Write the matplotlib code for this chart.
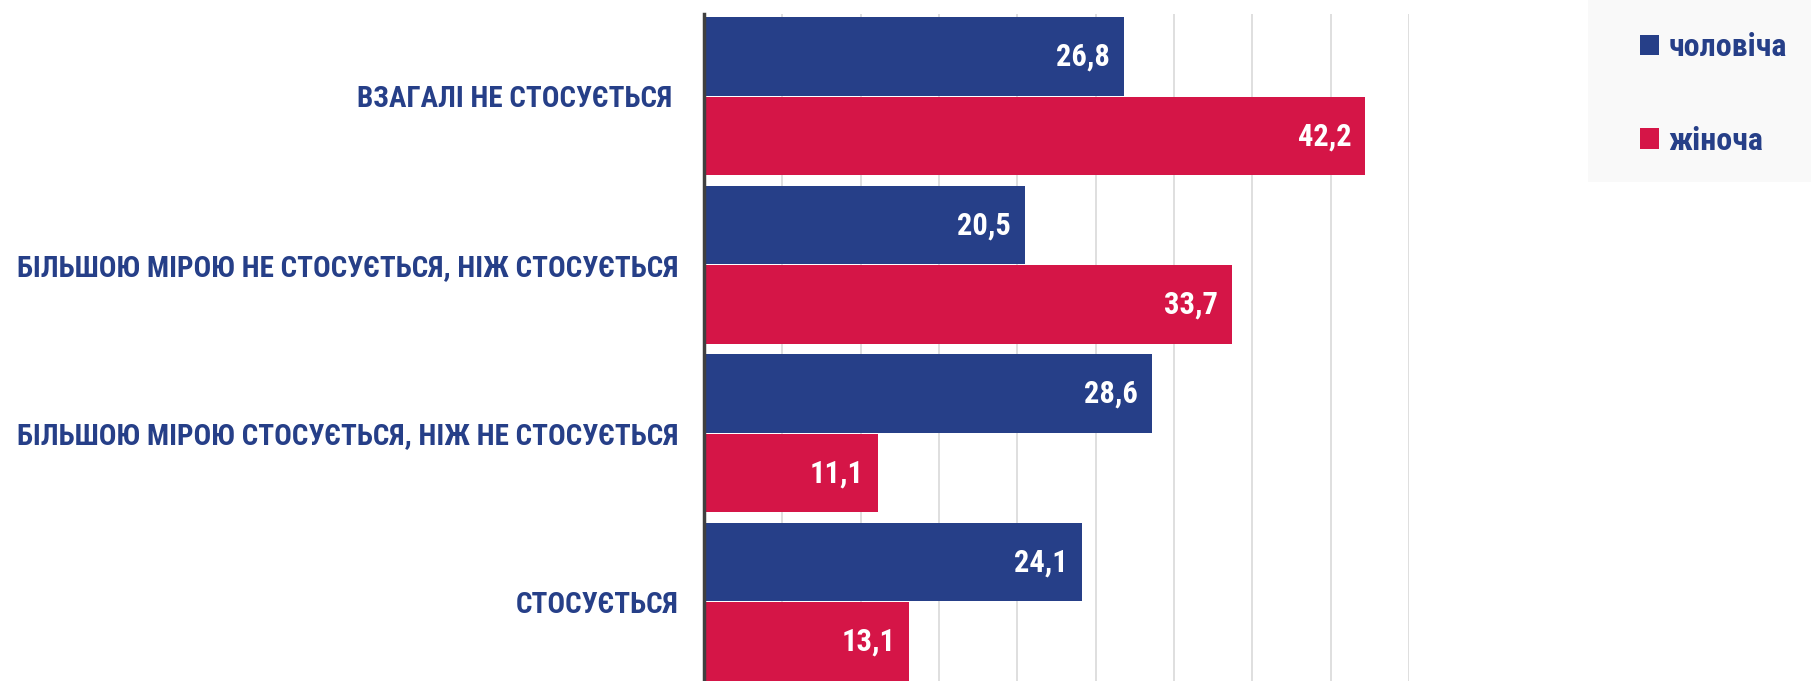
import numpy as np
import matplotlib.pyplot as plt
from matplotlib.patches import Rectangle

categories = ["ВЗАГАЛІ НЕ СТОСУЄТЬСЯ ",
              "БІЛЬШОЮ МІРОЮ НЕ СТОСУЄТЬСЯ, НІЖ СТОСУЄТЬСЯ",
              "БІЛЬШОЮ МІРОЮ СТОСУЄТЬСЯ, НІЖ НЕ СТОСУЄТЬСЯ",
              "СТОСУЄТЬСЯ"]
male = [26.8, 20.5, 28.6, 24.1]
female = [42.2, 33.7, 11.1, 13.1]
series_names = ["чоловіча", "жіноча"]

BLUE = "#263F88"
RED = "#D51547"
FONT = ["Roboto Condensed", "DejaVu Sans"]

plt.rcParams["font.family"] = FONT
plt.rcParams["font.weight"] = "bold"

fig = plt.figure(figsize=(18.11, 6.81), dpi=100)
ax = fig.add_axes([0.3887, 0.0, 0.778 - 0.3887, 0.9797])

y = np.arange(len(categories))
h = 0.466
off = 0.236
b1 = ax.barh(y - off, male, height=h, color=BLUE, label=series_names[0], zorder=2)
b2 = ax.barh(y + off, female, height=h, color=RED, label=series_names[1], zorder=2)

for bars, vals in ((b1, male), (b2, female)):
    for rect, v in zip(bars, vals):
        ax.annotate(f"{v:.1f}".replace(".", ","),
                    (v, rect.get_y() + rect.get_height() / 2),
                    xytext=(-10, 0), textcoords="offset points",
                    ha="right", va="center", color="white",
                    fontsize=22, fontweight="bold", zorder=3)

ax.set_xlim(0, 45)
ax.set_xticks(np.arange(0, 46, 5))
ax.set_ylim(3.47, -0.49)
ax.set_yticks(y)
ax.set_yticklabels(categories, fontsize=21, color=BLUE, fontweight="bold")
ax.tick_params(axis="y", length=0, pad=18)
ax.tick_params(axis="x", length=0, labelbottom=False)
ax.grid(axis="x", color="#D9D9D9", linewidth=1.2, zorder=0)
for s in ["top", "right", "bottom"]:
    ax.spines[s].set_visible(False)
ax.spines["left"].set_color("#404040")
ax.spines["left"].set_linewidth(2.5)
ax.spines["left"].set_zorder(4)

# legend panel
fig.patches.append(Rectangle((1588 / 1811, 1 - 182 / 681), 1 - 1588 / 1811, 182 / 681,
                             transform=fig.transFigure, facecolor="#F9F9F9",
                             edgecolor="none", zorder=0))
leg = fig.legend(handles=[b1, b2], loc="upper left",
                 bbox_to_anchor=(1624 / 1811, 1 - 16 / 681),
                 frameon=False, fontsize=23, handlelength=0.6, handleheight=0.6,
                 handletextpad=0.3, labelspacing=2.0, borderpad=0)
for t in leg.get_texts():
    t.set_color(BLUE)
    t.set_fontweight("bold")

fig.savefig("out.png", dpi=100)
